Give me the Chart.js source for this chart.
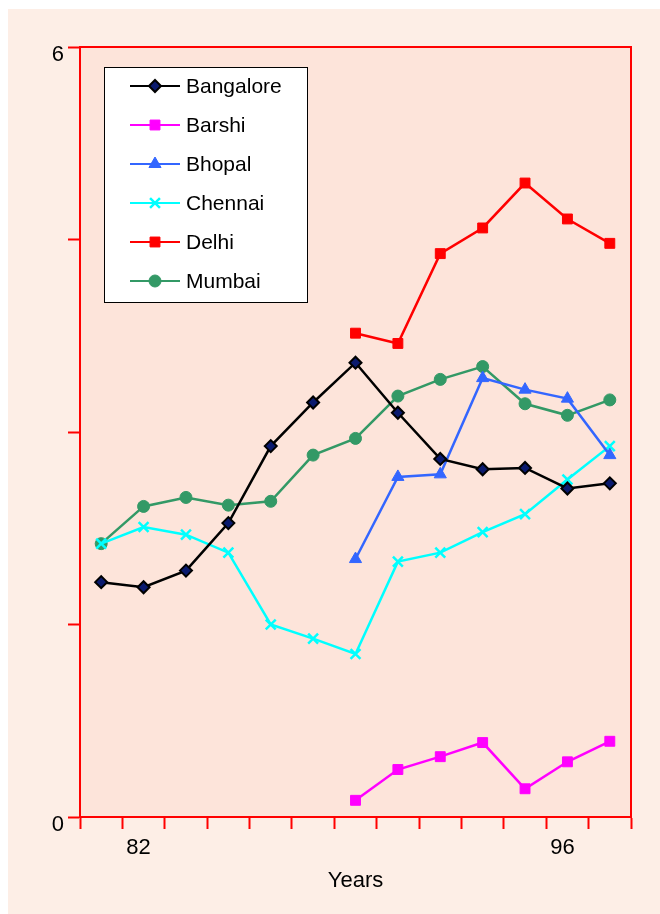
<!DOCTYPE html>
<html>
<head>
<meta charset="utf-8">
<script src="https://cdn.jsdelivr.net/npm/chart.js@4/dist/chart.umd.min.js"></script>
<style>
  html, body { margin: 0; padding: 0; background: #ffffff; }
  #wrap { width: 660px; height: 914px; }
</style>
</head>
<body>
<div id="wrap"><canvas id="cityChart"></canvas></div>
<script>
// x categories (only two are labelled in the original)
var years = ['', '82', '', '', '', '', '', '', '', '', '', '96', ''];

var bangalore = [1.83, 1.79, 1.92, 2.29, 2.89, 3.23, 3.54, 3.15, 2.79, 2.71, 2.72, 2.56, 2.60];
var barshi    = [null, null, null, null, null, null, 0.13, 0.37, 0.47, 0.58, 0.22, 0.43, 0.59];
var bhopal    = [null, null, null, null, null, null, 2.01, 2.65, 2.67, 3.42, 3.33, 3.26, 2.82];
var chennai   = [2.13, 2.26, 2.20, 2.06, 1.50, 1.39, 1.27, 1.99, 2.06, 2.22, 2.36, 2.63, 2.89];
var delhi     = [null, null, null, null, null, null, 3.77, 3.69, 4.39, 4.59, 4.94, 4.66, 4.47];
var mumbai    = [2.13, 2.42, 2.49, 2.43, 2.46, 2.82, 2.95, 3.28, 3.41, 3.51, 3.22, 3.13, 3.25];

var yLabels = { 0: '0', 6: '6' };

var FONT = '"Liberation Sans", Arial, sans-serif';

// backgrounds + frame + legend box drawn inside the plot
var framePlugin = {
    id: 'frame',
    beforeDraw: function (chart) {
        var ctx = chart.ctx, a = chart.chartArea;
        ctx.save();
        ctx.fillStyle = '#fdeee6';
        ctx.fillRect(8, 9, chart.width - 8, chart.height - 9);
        ctx.fillStyle = '#fde4da';
        ctx.fillRect(a.left, a.top, a.right - a.left, a.bottom - a.top);
        ctx.restore();
    },
    afterDatasetsDraw: function (chart) {
        var ctx = chart.ctx, a = chart.chartArea;
        ctx.save();
        ctx.strokeStyle = '#ff0000';
        ctx.lineWidth = 2;
        ctx.strokeRect(a.left, a.top, a.right - a.left, a.bottom - a.top);

        // legend
        var bx = a.left + 24, by = a.top + 20, bw = 203, bh = 235;
        ctx.fillStyle = '#ffffff';
        ctx.fillRect(bx, by, bw, bh);
        ctx.strokeStyle = '#000000';
        ctx.lineWidth = 1;
        ctx.strokeRect(bx + 0.5, by + 0.5, bw, bh);
        ctx.font = '21px ' + FONT;
        ctx.textBaseline = 'middle';
        chart.data.datasets.forEach(function (ds, i) {
            var y = by + 19 + i * 39;
            ctx.strokeStyle = ds.borderColor;
            ctx.lineWidth = 2;
            ctx.beginPath();
            ctx.moveTo(bx + 26, y);
            ctx.lineTo(bx + 76, y);
            ctx.stroke();
            ctx.fillStyle = ds.pointBackgroundColor;
            ctx.strokeStyle = ds.pointBorderColor;
            ctx.lineWidth = ds.pointBorderWidth;
            Chart.helpers.drawPoint(ctx, {
                pointStyle: ds.pointStyle,
                radius: ds.pointRadius,
                rotation: 0,
                borderWidth: ds.pointBorderWidth
            }, bx + 51, y);
            ctx.fillStyle = '#000000';
            ctx.textAlign = 'left';
            ctx.fillText(ds.label, bx + 82, y + 1);
        });
        ctx.restore();
    }
};

function series(label, data, color, style, extra) {
    var ds = {
        label: label,
        data: data,
        borderColor: color,
        backgroundColor: color,
        pointBackgroundColor: color,
        pointBorderColor: color,
        pointStyle: style,
        pointRadius: 6,
        pointHoverRadius: 6,
        pointBorderWidth: 1,
        borderWidth: 2.5,
        spanGaps: false,
        tension: 0
    };
    for (var k in extra) ds[k] = extra[k];
    return ds;
}

new Chart(document.getElementById('cityChart'), {
    type: 'line',
    data: {
        labels: years,
        datasets: [
            series('Bangalore', bangalore, '#000000', 'rectRot', { pointBackgroundColor: '#0a1a6e', pointBorderColor: '#000000', pointBorderWidth: 2, pointRadius: 6 }),
            series('Barshi', barshi, '#ff00ff', 'rect', { pointRadius: 7 }),
            series('Bhopal', bhopal, '#3366ff', 'triangle', { pointRadius: 7 }),
            series('Chennai', chennai, '#00ffff', 'crossRot', { pointRadius: 7, pointBorderWidth: 2.5 }),
            series('Delhi', delhi, '#ff0000', 'rect', { pointRadius: 7 }),
            series('Mumbai', mumbai, '#339966', 'circle', { pointRadius: 6 })
        ]
    },
    options: {
        responsive: true,
        maintainAspectRatio: false,
        animation: false,
        layout: { padding: { top: 47, right: 29, left: 0, bottom: 20 } },
        plugins: {
            legend: { display: false },
            tooltip: { enabled: false }
        },
        scales: {
            x: {
                offset: true,
                grid: {
                    offset: true,
                    drawOnChartArea: false,
                    drawTicks: true,
                    tickLength: 12,
                    tickWidth: 2,
                    color: '#ff0000'
                },
                border: { color: '#ff0000', width: 2 },
                ticks: {
                    autoSkip: false,
                    maxRotation: 0,
                    padding: 6,
                    labelOffset: -5,
                    color: '#000000',
                    font: { family: FONT, size: 22 }
                },
                title: {
                    display: true,
                    text: 'Years',
                    color: '#000000',
                    padding: { top: 2, bottom: 0 },
                    font: { family: FONT, size: 22 }
                },
                afterFit: function (scale) { scale.height = 77; }
            },
            y: {
                min: 0,
                max: 6,
                grid: {
                    drawOnChartArea: false,
                    tickLength: 12,
                    tickWidth: 2,
                    color: '#ff0000'
                },
                border: { color: '#ff0000', width: 2 },
                ticks: {
                    stepSize: 1.5,
                    padding: 4,
                    labelOffset: 8,
                    color: '#000000',
                    font: { family: FONT, size: 22 },
                    callback: function (v) { return yLabels[v] !== undefined ? yLabels[v] : ''; }
                },
                afterFit: function (scale) { scale.width = 80; }
            }
        }
    },
    plugins: [framePlugin]
});
</script>
</body>
</html>
